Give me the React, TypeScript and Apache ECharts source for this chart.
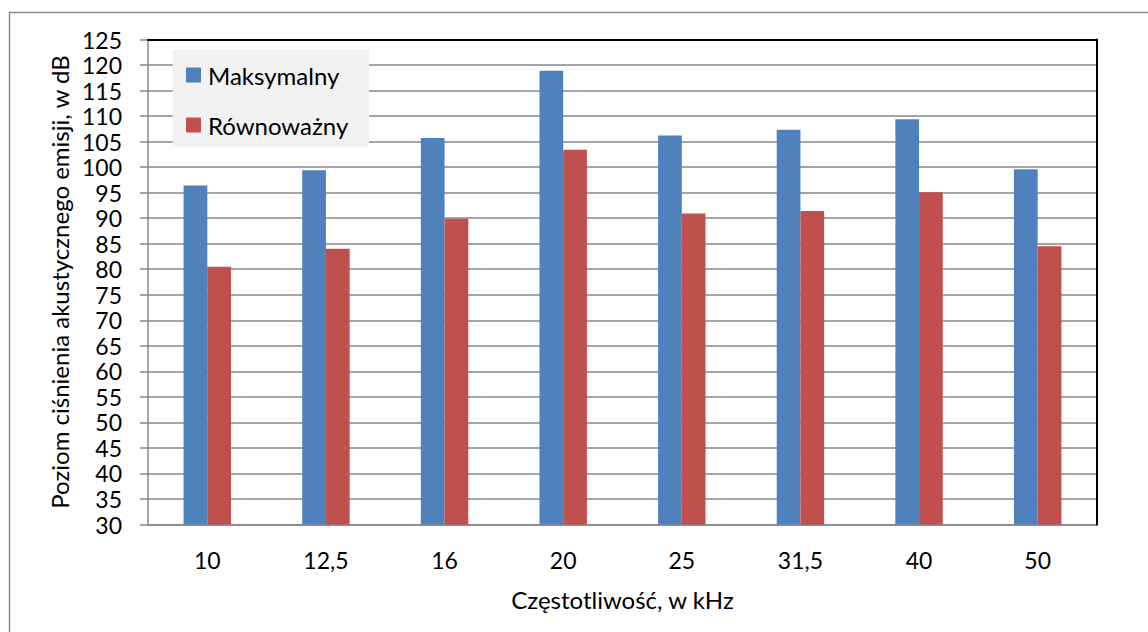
import React, { useEffect, useRef } from 'react';
import * as echarts from 'echarts';

const categories = ['10', '12,5', '16', '20', '25', '31,5', '40', '50'];
const maksymalny = [96.4, 99.4, 105.7, 118.9, 106.2, 107.3, 109.4, 99.6];
const rownowazny = [80.5, 84.0, 89.9, 103.4, 90.9, 91.4, 95.1, 84.5];
const seriesNames = ['Maksymalny', 'Równoważny'];
const yTitle = 'Poziom ciśnienia akustycznego emisji, w dB';
const xTitle = 'Częstotliwość, w kHz';

const FONT = 'Lato';
const GRID_COLOR = '#878787';

export default function App() {
  const ref = useRef<HTMLDivElement>(null);
  useEffect(() => {
    document.body.style.margin = '0';
    const chart = echarts.init(ref.current!, null, { renderer: 'svg' });
    chart.setOption({
      animation: false,
      backgroundColor: '#ffffff',
      textStyle: { fontFamily: FONT },
      grid: { left: 148, right: 51, top: 39.5, bottom: 107.5 },
      graphic: [
        {
          type: 'rect',
          silent: true,
          z: -10,
          shape: { x: 9.5, y: 12.5, width: 1400, height: 900 },
          style: { fill: 'none', stroke: '#8c8c8c', lineWidth: 1.5 },
        },
        {
          type: 'rect',
          silent: true,
          z: 5,
          shape: { x: 172.7, y: 50, width: 196.3, height: 96.7 },
          style: { fill: '#f2f2f2' },
        },
      ],
      legend: {
        orient: 'vertical',
        left: 186,
        top: 63,
        padding: 0,
        z: 10,
        itemGap: 26,
        itemWidth: 15,
        itemHeight: 15,
        icon: 'rect',
        data: seriesNames,
        textStyle: { fontSize: 24, lineHeight: 22, fontFamily: FONT, color: '#000', padding: [0, 0, 0, 2] },
      },
      xAxis: [
        {
          type: 'category',
          data: categories,
          axisLine: { show: true, lineStyle: { color: GRID_COLOR, width: 1.5 } },
          axisTick: { show: false },
          axisLabel: { fontSize: 23, color: '#000', margin: 24, fontFamily: FONT },
          splitLine: { show: false },
          name: xTitle,
          nameLocation: 'middle',
          nameGap: 63,
          nameTextStyle: { fontSize: 24, color: '#000', fontFamily: FONT },
        },
        {
          type: 'category',
          data: categories,
          position: 'top',
          z: 5,
          axisLine: { show: true, lineStyle: { color: '#000', width: 2 } },
          axisTick: { show: false },
          axisLabel: { show: false },
          splitLine: { show: false },
        },
      ],
      yAxis: [
        {
          type: 'value',
          min: 30,
          max: 125,
          interval: 5,
          axisLine: { show: true, lineStyle: { color: GRID_COLOR, width: 1.5 } },
          axisTick: { show: true, inside: false, length: 8, lineStyle: { color: GRID_COLOR, width: 1.5 } },
          axisLabel: { fontSize: 23, lineHeight: 24, color: '#000', margin: 26, fontFamily: FONT },
          splitLine: { show: true, lineStyle: { color: GRID_COLOR, width: 1.5 } },
          name: yTitle,
          nameLocation: 'middle',
          nameGap: 77,
          nameTextStyle: { fontSize: 24, lineHeight: 24, color: '#000', fontFamily: FONT },
        },
        {
          type: 'value',
          min: 30,
          max: 125,
          interval: 5,
          position: 'right',
          z: 5,
          axisLine: { show: true, lineStyle: { color: '#000', width: 2 } },
          axisTick: { show: false },
          axisLabel: { show: false },
          splitLine: { show: false },
        },
      ],
      series: [
        {
          name: seriesNames[0],
          type: 'bar',
          data: maksymalny,
          barGap: '0%',
          barCategoryGap: '60%',
          itemStyle: { color: '#4f81bd' },
        },
        {
          name: seriesNames[1],
          type: 'bar',
          data: rownowazny,
          barGap: '0%',
          barCategoryGap: '60%',
          itemStyle: { color: '#c0504d' },
        },
      ],
    });
    return () => chart.dispose();
  }, []);
  return <div ref={ref} style={{ width: 1148, height: 632 }} />;
}
